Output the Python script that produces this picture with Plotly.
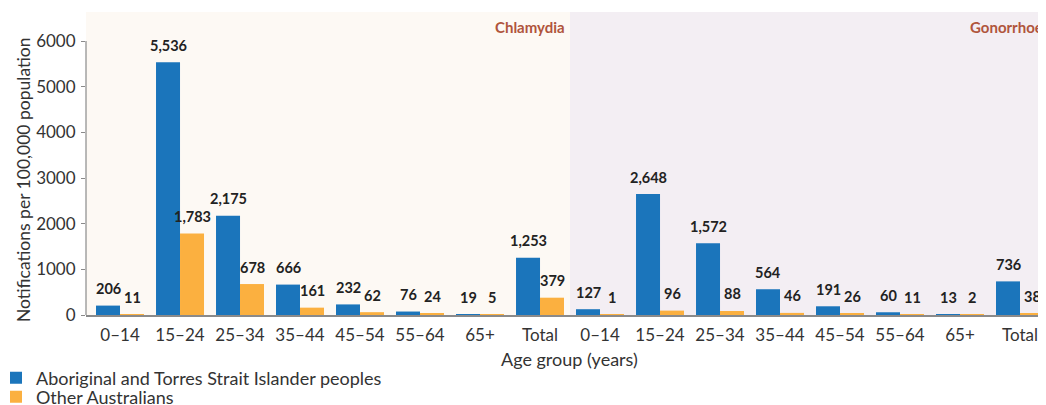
import plotly.graph_objects as go

# ---------------- data ----------------
age_groups = ["0–14", "15–24", "25–34", "35–44", "45–54", "55–64", "65+", "Total"]
infections = ["Chlamydia", "Gonorrhoea"]

chlamydia_atsi = [206, 5536, 2175, 666, 232, 76, 19, 1253]
chlamydia_other = [11, 1783, 678, 161, 62, 24, 5, 379]
gonorrhoea_atsi = [127, 2648, 1572, 564, 191, 60, 13, 736]
gonorrhoea_other = [1, 96, 88, 46, 26, 11, 2, 38]

series_names = ["Aboriginal and Torres Strait Islander peoples", "Other Australians"]
y_ticks = [0, 1000, 2000, 3000, 4000, 5000, 6000]
x_title = "Age group (years)"
y_title = "Notifications per 100,000 population"

# ---------------- styling ----------------
BLUE = "#1b75bb"
ORANGE = "#fbb040"
FONT = "Lato"
TXT = "#333333"
LABEL = "#222222"
PANEL = "#b0553c"

n = len(age_groups)
xs = list(range(2 * n))
atsi = chlamydia_atsi + gonorrhoea_atsi
other = chlamydia_other + gonorrhoea_other
ticktext = age_groups + age_groups

fig = go.Figure()
fig.add_bar(x=xs, y=atsi, name=series_names[0], marker_color=BLUE,
            marker_line_width=0, hoverinfo="x+y", showlegend=True)
fig.add_bar(x=xs, y=other, name=series_names[1], marker_color=ORANGE,
            marker_line_width=0, hoverinfo="x+y", legend="legend2", showlegend=True)

# value labels
for i, v in enumerate(atsi):
    fig.add_annotation(x=i - 0.2, y=v, xref="x", yref="y", text=f"{v:,}",
                       showarrow=False, yshift=17,
                       font=dict(family=FONT, size=14.5, color=LABEL, weight="bold"))
for i, v in enumerate(other):
    fig.add_annotation(x=i + 0.2, y=v, xref="x", yref="y", text=f"{v:,}",
                       showarrow=False, yshift=17,
                       font=dict(family=FONT, size=14.5, color=LABEL, weight="bold"))

# panel backgrounds
fig.add_shape(type="rect", xref="x", yref="paper", x0=-0.6, x1=n - 0.5, y0=0, y1=1,
              fillcolor="#fdf9f4", line_width=0, layer="below")
fig.add_shape(type="rect", xref="x", yref="paper", x0=n - 0.5, x1=2 * n, y0=0, y1=1,
              fillcolor="#f3eef3", line_width=0, layer="below")

# panel labels
fig.add_annotation(x=n - 0.5, y=1, xref="x", yref="paper", text=infections[0],
                   xanchor="right", yanchor="top", xshift=-3, yshift=-4, showarrow=False,
                   font=dict(family=FONT, size=15, color=PANEL, weight="bold"))
fig.add_annotation(x=2 * n - 1.87, y=1, xref="x", yref="paper", text=infections[1],
                   xanchor="left", yanchor="top", yshift=-4, showarrow=False,
                   font=dict(family=FONT, size=15, color=PANEL, weight="bold"))

# axis titles
fig.add_annotation(x=0.504, y=-0.145, xref="paper", yref="paper", text=x_title,
                   showarrow=False, xanchor="center", yanchor="middle",
                   font=dict(family=FONT, size=18, color=TXT))
fig.add_annotation(x=-0.0656, y=0.4455, xref="paper", yref="paper", text=y_title,
                   textangle=-90, showarrow=False, xanchor="center", yanchor="middle",
                   font=dict(family=FONT, size=17.5, color=TXT))

# y axis line (0 to 6000 only)
fig.add_shape(type="line", xref="paper", yref="y", x0=0, x1=0, y0=0, y1=y_ticks[-1],
              line=dict(color="#8a8a8a", width=1.2))

fig.update_layout(
    width=1038, height=397,
    margin=dict(l=78, r=0, t=4, b=90, autoexpand=False),
    paper_bgcolor="white", plot_bgcolor="rgba(0,0,0,0)",
    showlegend=True,
    barmode="group", bargap=0.2, bargroupgap=0,
    font=dict(family=FONT, size=15, color=TXT),
    legend=dict(orientation="v", xref="paper", yref="container",
                x=-0.09375, y=1 - 370 / 397, xanchor="left", yanchor="middle",
                font=dict(family=FONT, size=18, color=TXT), visible=True,
                itemwidth=30, bgcolor="rgba(0,0,0,0)"),
    legend2=dict(orientation="v", xref="paper", yref="container",
                 x=-0.09375, y=1 - 389 / 397, xanchor="left", yanchor="middle",
                 font=dict(family=FONT, size=18, color=TXT), visible=True,
                 itemwidth=30, bgcolor="rgba(0,0,0,0)"),
    xaxis=dict(range=[-0.567, 15.433], tickmode="array", tickvals=xs, ticktext=ticktext,
               tickangle=0, showgrid=False, zeroline=False, showline=True,
               linecolor="#8a8a8a", linewidth=1.5, ticks="outside", ticklen=4,
               tickcolor="rgba(0,0,0,0)",
               tickfont=dict(family=FONT, size=17, color=TXT)),
    yaxis=dict(range=[0, 6635], tickmode="array", tickvals=y_ticks,
               showgrid=False, zeroline=False, showline=False,
               ticks="outside", ticklen=4, tickcolor="#8a8a8a", ticklabelstandoff=2,
               tickfont=dict(family=FONT, size=17, color=TXT)),
)

fig.write_html("out.html")
